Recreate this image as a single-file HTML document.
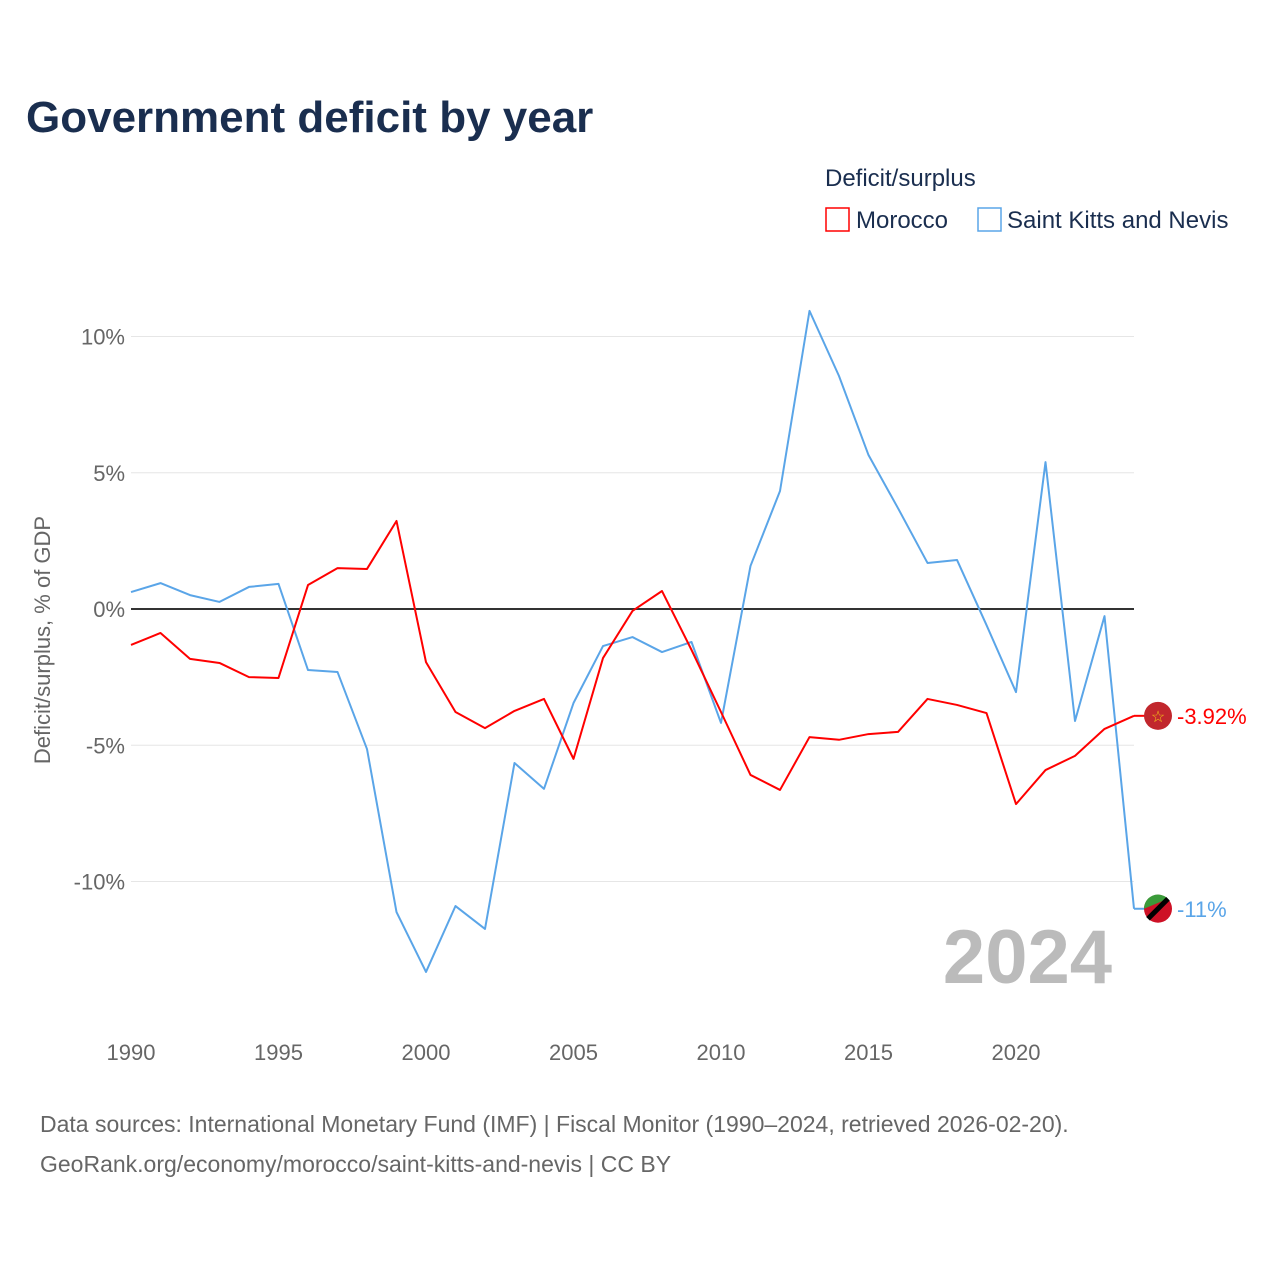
<!DOCTYPE html>
<html><head><meta charset="utf-8"><style>
body{margin:0;background:#fff;font-family:"Liberation Sans",sans-serif}
svg text{font-family:"Liberation Sans",sans-serif}
</style></head><body>
<svg id="c" width="1280" height="1280">
<text x="26" y="132" font-size="44" font-weight="bold" fill="#1a2e4f">Government deficit by year</text>
<text x="825" y="186" font-size="24" fill="#1a2e4f">Deficit/surplus</text>
<g><rect x="826" y="208" width="23" height="23" fill="none" stroke="#ff0000" stroke-width="1.5"/><text x="856" y="228" font-size="24" fill="#1a2e4f">Morocco</text></g>
<g><rect x="978" y="208" width="23" height="23" fill="none" stroke="#5aa5e8" stroke-width="1.5"/><text x="1007" y="228" font-size="24" fill="#1a2e4f">Saint Kitts and Nevis</text></g>
<text transform="translate(50,640) rotate(-90)" text-anchor="middle" font-size="22" fill="#666">Deficit/surplus, % of GDP</text>
<text x="1112" y="983" text-anchor="end" font-size="76" font-weight="bold" fill="#bbb">2024</text>
<text x="40" y="1132" font-size="23" fill="#666">Data sources: International Monetary Fund (IMF) | Fiscal Monitor (1990–2024, retrieved 2026-02-20).</text>
<text x="40" y="1172" font-size="23" fill="#666">GeoRank.org/economy/morocco/saint-kitts-and-nevis | CC BY</text>
<g id="plot"></g>
</svg>
<script>
const years=[];for(let y=1990;y<=2024;y++)years.push(y);
const morocco=[-1.32,-0.88,-1.83,-1.98,-2.5,-2.53,0.88,1.5,1.47,3.23,-1.95,-3.78,-4.37,-3.74,-3.3,-5.5,-1.8,-0.07,0.66,-1.5,-3.78,-6.09,-6.64,-4.7,-4.8,-4.59,-4.51,-3.3,-3.52,-3.82,-7.16,-5.91,-5.39,-4.4,-3.92];
const skn=[0.62,0.95,0.51,0.26,0.81,0.92,-2.24,-2.31,-5.14,-11.12,-13.32,-10.9,-11.74,-5.65,-6.6,-3.45,-1.36,-1.03,-1.58,-1.21,-4.18,1.58,4.33,10.94,8.55,5.65,3.7,1.69,1.8,-0.59,-3.05,5.39,-4.11,-0.26,-11];
const yTicks=[10,5,0,-5,-10];
const xTicks=[1990,1995,2000,2005,2010,2015,2020];
const X=y=>131+(y-1990)*29.5;
const Y=v=>609-v*27.25;
const NS='http://www.w3.org/2000/svg';
const g=document.getElementById('plot');
function mk(t,a,p){const e=document.createElementNS(NS,t);for(const k in a)e.setAttribute(k,a[k]);(p||g).appendChild(e);return e;}
yTicks.forEach(v=>{
 const l=mk('line',{x1:131,x2:1134,y1:Y(v),y2:Y(v),stroke:v===0?'#333':'#e6e6e6','stroke-width':v===0?2:1});
 
 
 const t=mk('text',{x:125,y:Y(v)+8,'text-anchor':'end','font-size':22,fill:'#666'});t.textContent=v+'%';
 
 
});
xTicks.forEach(v=>{
 const t=mk('text',{x:X(v),y:1060,'text-anchor':'middle','font-size':22,fill:'#666'});t.textContent=v;
 
 
});
function line(data,col,name){
 const p=mk('polyline',{points:data.map((v,i)=>X(years[i])+','+Y(v)).join(' '),fill:'none',stroke:col,'stroke-width':2,'stroke-linejoin':'round'});
 
 
}
line(skn,'#5aa5e8','series-saint-kitts');
line(morocco,'#ff0000','series-morocco');
const lm=morocco[morocco.length-1], ls=skn[skn.length-1];
const e1=mk('line',{x1:X(2024),x2:1150,y1:Y(lm),y2:Y(lm),stroke:'#ff0000','stroke-width':2});


const e2=mk('line',{x1:X(2024),x2:1150,y1:Y(ls),y2:Y(ls),stroke:'#5aa5e8','stroke-width':2});


const f1=mk('circle',{cx:1158,cy:Y(lm),r:14,fill:'#c1272d'});


const s1=mk('text',{x:1158,y:Y(lm)+6,'text-anchor':'middle','font-size':16,fill:'#f5c518'});s1.textContent='☆';


const f2=mk('circle',{cx:1158,cy:Y(ls),r:14,fill:'#ce1126'});


const f3=mk('path',{d:`M1144 ${Y(ls)} A14 14 0 0 1 1168 ${Y(ls)-10} Z`,fill:'#3a9b3a'});


const f4=mk('line',{x1:1148,y1:Y(ls)+10,x2:1168,y2:Y(ls)-10,stroke:'#000','stroke-width':5});


const t1=mk('text',{x:1177,y:Y(lm)+8,'font-size':22,fill:'#ff0000'});t1.textContent=lm.toFixed(2)+'%';


const t2=mk('text',{x:1177,y:Y(ls)+8,'font-size':22,fill:'#5aa5e8'});t2.textContent=Math.round(ls)+'%';


</script>
</body></html>
